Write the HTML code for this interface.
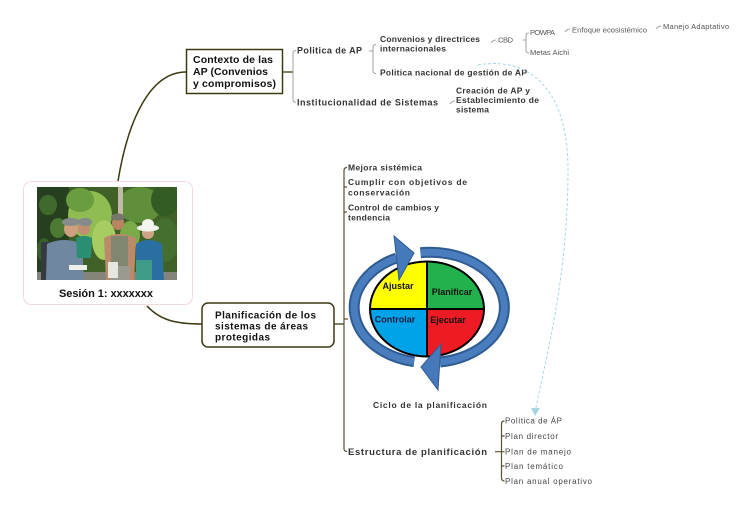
<!DOCTYPE html>
<html><head><meta charset="utf-8"><style>
html,body{margin:0;padding:0;background:#fff;}
svg{display:block;}
text{font-family:"Liberation Sans","DejaVu Sans",sans-serif;}
.b{font-weight:bold;}
</style></head><body>
<svg width="754" height="511" viewBox="0 0 754 511" xmlns="http://www.w3.org/2000/svg">
<defs>
<clipPath id="ph"><rect x="37" y="187" width="140" height="93"/></clipPath>
</defs>

<!-- main connectors -->
<path d="M118,181 C128,120 150,72 186,72" fill="none" stroke="#3b3a12" stroke-width="1.5"/>
<path d="M147,306 C160,320 175,324 202,324" fill="none" stroke="#3b3a12" stroke-width="1.5"/>
<line x1="283" y1="72" x2="293" y2="72" stroke="#3b3a12" stroke-width="1.3"/>
<line x1="334" y1="324" x2="344" y2="324" stroke="#3b3a12" stroke-width="1.3"/>

<!-- root box -->
<rect x="23.5" y="181.5" width="169" height="123" rx="8" fill="#fff" stroke="#f3dada" stroke-width="1"/>
<g clip-path="url(#ph)">
 <rect x="37" y="187" width="140" height="93" fill="#3f6128"/>
 <rect x="37" y="187" width="32" height="93" fill="#26401f"/>
 <ellipse cx="48" cy="205" rx="9" ry="10" fill="#3f6a2c"/>
 <ellipse cx="58" cy="228" rx="8" ry="10" fill="#4d7a33"/>
 <ellipse cx="44" cy="250" rx="7" ry="12" fill="#37602a"/>
 <ellipse cx="90" cy="215" rx="22" ry="24" fill="#8fbd52"/>
 <ellipse cx="80" cy="200" rx="14" ry="12" fill="#6a9c40"/>
 <ellipse cx="104" cy="240" rx="12" ry="20" fill="#a6cc62"/>
 <ellipse cx="140" cy="205" rx="22" ry="18" fill="#5f8f3a"/>
 <ellipse cx="165" cy="200" rx="14" ry="16" fill="#335c24"/>
 <ellipse cx="165" cy="240" rx="14" ry="22" fill="#446f2e"/>
 <ellipse cx="130" cy="235" rx="10" ry="14" fill="#7aab48"/>
 <rect x="118" y="187" width="5" height="40" fill="#c2baa6"/>
 <rect x="37" y="272" width="140" height="8" fill="#84847a"/>
 <!-- person 1 -->
 <rect x="41" y="242" width="8" height="38" fill="#353a40"/>
 <path d="M47,244 Q64,236 82,244 L84,280 L46,280 Z" fill="#6f88a0"/>
 <ellipse cx="71" cy="229" rx="7" ry="8" fill="#cf9f80"/>
 <ellipse cx="71" cy="222" rx="9" ry="4" fill="#868b8c"/>
 <rect x="69" y="265" width="18" height="5" fill="#eeeeea"/>
 <!-- person 2 -->
 <ellipse cx="84" cy="228" rx="6" ry="7" fill="#c08e70"/>
 <ellipse cx="85" cy="222" rx="7" ry="4" fill="#84898a"/>
 <path d="M76,238 Q84,234 92,238 L91,258 L77,258 Z" fill="#2a8f72"/>
 <!-- person 3 -->
 <path d="M104,238 Q118,230 136,238 L134,280 L106,280 Z" fill="#bb8a6a"/>
 <rect x="111" y="236" width="17" height="30" fill="#808670"/>
 <rect x="110" y="266" width="20" height="14" fill="#9a9a90"/>
 <ellipse cx="118" cy="223" rx="6" ry="7" fill="#b88464"/>
 <ellipse cx="118" cy="217" rx="7" ry="3.5" fill="#74776a"/>
 <rect x="108" y="262" width="10" height="16" fill="#e6e6e0"/>
 <!-- person 4 -->
 <path d="M136,244 Q148,236 162,244 L164,280 L136,280 Z" fill="#2a6fa2"/>
 <rect x="136" y="260" width="16" height="20" fill="#3f9a88"/>
 <ellipse cx="148" cy="233" rx="6" ry="6" fill="#cfa385"/>
 <ellipse cx="148" cy="228" rx="11" ry="3.5" fill="#f2f2ee"/>
 <ellipse cx="148" cy="224" rx="6" ry="5" fill="#f4f4f0"/>
</g>
<text x="59" y="297" class="b" font-size="11" fill="#111" textLength="94" lengthAdjust="spacing">Sesión 1: xxxxxxx</text>

<!-- context box -->
<rect x="186.5" y="49.5" width="96" height="44" fill="#fff" stroke="#3b3a12" stroke-width="1.5"/>
<text x="193" y="63" class="b" font-size="10.5" fill="#111" textLength="80" lengthAdjust="spacing">Contexto de las</text>
<text x="193" y="75" class="b" font-size="10.5" fill="#111" textLength="75" lengthAdjust="spacing">AP (Convenios</text>
<text x="193" y="87" class="b" font-size="10.5" fill="#111" textLength="83" lengthAdjust="spacing">y compromisos)</text>

<!-- upper brackets -->
<path d="M296,50.5 Q293,50.5 293,53.5 L293,99.5 Q293,102.5 296,102.5" fill="none" stroke="#a0a0a0" stroke-width="1"/>
<path d="M376,44.5 Q373,44.5 373,47.5 L373,70.5 Q373,73.5 376,73.5 M373,51 L369,51" fill="none" stroke="#a0a0a0" stroke-width="1"/>
<path d="M529,33 Q526,33 526,36 L526,50 Q526,53 529,53 M526,40 L523,40" fill="none" stroke="#a0a0a0" stroke-width="1"/>
<g fill="none" stroke="#a0a0a0" stroke-width="1">
<path d="M491,43 Q493,40 496,40"/>
<path d="M565,32 Q567,29 570,29"/>
<path d="M656,29 Q658,26 661,26"/>
<path d="M450,104 Q452,101 455,101"/>
</g>

<text x="297" y="53.5" class="b" font-size="9" fill="#333" textLength="65" lengthAdjust="spacing">Politica de AP</text>
<text x="297" y="105.5" class="b" font-size="9" fill="#333" textLength="141" lengthAdjust="spacing">Institucionalidad de Sistemas</text>
<text x="380" y="42" class="b" font-size="8.5" fill="#333" textLength="100" lengthAdjust="spacing">Convenios y directrices</text>
<text x="380" y="51.5" class="b" font-size="8.5" fill="#333" textLength="66" lengthAdjust="spacing">internacionales</text>
<text x="380" y="75.5" class="b" font-size="8.5" fill="#333" textLength="147" lengthAdjust="spacing">Politica nacional de gestión de AP</text>
<text x="456" y="93.5" class="b" font-size="8.5" fill="#333" textLength="74" lengthAdjust="spacing">Creación de AP y</text>
<text x="456" y="103" class="b" font-size="8.5" fill="#333" textLength="83" lengthAdjust="spacing">Establecimiento de</text>
<text x="456" y="112.5" class="b" font-size="8.5" fill="#333" textLength="33" lengthAdjust="spacing">sistema</text>

<text x="498" y="42.5" font-size="7.5" fill="#555" textLength="15" lengthAdjust="spacing">CBD</text>
<text x="530" y="35" font-size="7.5" fill="#555" textLength="25" lengthAdjust="spacing">POWPA</text>
<text x="530" y="55" font-size="7.5" fill="#555" textLength="39" lengthAdjust="spacing">Metas Aichi</text>
<text x="572" y="32.5" font-size="7.5" fill="#555" textLength="75" lengthAdjust="spacing">Enfoque ecosistémico</text>
<text x="663" y="29" font-size="7.5" fill="#555" textLength="66" lengthAdjust="spacing">Manejo Adaptativo</text>

<!-- dashed relation -->
<path d="M478,65 C522,57 568,80 568,170 C568,280 545,360 535.5,410" fill="none" stroke="#a9d6e3" stroke-width="1" stroke-dasharray="3,2"/>
<path d="M531,408 L540,408 L535,416 Z" fill="#a9d6e3"/>

<!-- plan box -->
<rect x="202" y="303" width="132" height="44" rx="6" fill="#fff" stroke="#3b3a12" stroke-width="1.5"/>
<text x="215" y="318.5" class="b" font-size="10" fill="#111" textLength="101" lengthAdjust="spacing">Planificación de los</text>
<text x="215" y="329.5" class="b" font-size="10" fill="#111" textLength="93" lengthAdjust="spacing">sistemas de áreas</text>
<text x="215" y="340.5" class="b" font-size="10" fill="#111" textLength="55" lengthAdjust="spacing">protegidas</text>

<!-- lower bracket -->
<path d="M347,167.5 Q344,167.5 344,170.5 L344,448.5 Q344,451.5 347,451.5 M344,187 L347,187 M344,212 L347,212 M344,319 L348,319" fill="none" stroke="#5a5230" stroke-width="1.2"/>
<text x="348" y="170.5" class="b" font-size="8.5" fill="#333" textLength="74" lengthAdjust="spacing">Mejora sistémica</text>
<text x="348" y="185" class="b" font-size="8.5" fill="#333" textLength="119" lengthAdjust="spacing">Cumplir con objetivos de</text>
<text x="348" y="195.5" class="b" font-size="8.5" fill="#333" textLength="62" lengthAdjust="spacing">conservación</text>
<text x="348" y="210.5" class="b" font-size="8.5" fill="#333" textLength="91" lengthAdjust="spacing">Control de cambios y</text>
<text x="348" y="220.5" class="b" font-size="8.5" fill="#333" textLength="42" lengthAdjust="spacing">tendencia</text>

<!-- cycle -->
<path d="M427,309 L370,309 A57,47.5 0 0 1 427,261.5 Z" fill="#ffff00"/>
<path d="M427,309 L427,261.5 A57,47.5 0 0 1 484,309 Z" fill="#22b14c"/>
<path d="M427,309 L484,309 A57,47.5 0 0 1 427,356.5 Z" fill="#ed1c24"/>
<path d="M427,309 L427,356.5 A57,47.5 0 0 1 370,309 Z" fill="#00a2e8"/>
<ellipse cx="427" cy="309" rx="57" ry="47.5" fill="none" stroke="#000" stroke-width="2"/>
<line x1="427" y1="261.5" x2="427" y2="356.5" stroke="#000" stroke-width="2"/>
<line x1="370" y1="309" x2="484" y2="309" stroke="#000" stroke-width="2"/>
<text x="398" y="289" class="b" font-size="9" fill="#111" text-anchor="middle">Ajustar</text>
<text x="452" y="295" class="b" font-size="9" fill="#111" text-anchor="middle">Planificar</text>
<text x="395" y="322.5" class="b" font-size="9" fill="#1a1a40" text-anchor="middle">Controlar</text>
<text x="448" y="323" class="b" font-size="9" fill="#111" text-anchor="middle">Ejecutar</text>

<g fill="none" stroke-linecap="butt">
<path d="M414.2,361.7 A74,55 0 0 1 396.5,258" stroke="#2e5c93" stroke-width="11"/>
<path d="M414.2,361.7 A74,55 0 0 1 396.5,258" stroke="#4a7dbd" stroke-width="7"/>
<path d="M420.5,252.7 A74,55 0 0 1 440,362" stroke="#2e5c93" stroke-width="11"/>
<path d="M420.5,252.7 A74,55 0 0 1 440,362" stroke="#4a7dbd" stroke-width="7"/>
</g>
<polygon points="394,236 414,253 399,280" fill="#4679ba" stroke="#2e5c93" stroke-width="1"/>
<polygon points="441,344 421,367 438,390" fill="#4679ba" stroke="#2e5c93" stroke-width="1"/>

<text x="373" y="408" class="b" font-size="8.5" fill="#333" textLength="114" lengthAdjust="spacing">Ciclo de la planificación</text>
<text x="348" y="455" class="b" font-size="9.5" fill="#333" textLength="139" lengthAdjust="spacing">Estructura de planificación</text>

<!-- right lower bracket -->
<path d="M504.5,421 Q501.5,421 501.5,424 L501.5,478 Q501.5,481 504.5,481 M501.5,436 L504.5,436 M495,451.7 L504.5,451.7 M501.5,466 L504.5,466" fill="none" stroke="#5a5230" stroke-width="1.2"/>
<text x="505" y="423.5" font-size="8" fill="#444" textLength="57" lengthAdjust="spacing">Política de ÁP</text>
<text x="505" y="439" font-size="8" fill="#444" textLength="53" lengthAdjust="spacing">Plan director</text>
<text x="505" y="454.5" font-size="8" fill="#444" textLength="66" lengthAdjust="spacing">Plan de manejo</text>
<text x="505" y="469" font-size="8" fill="#444" textLength="58" lengthAdjust="spacing">Plan temático</text>
<text x="505" y="484" font-size="8" fill="#444" textLength="87" lengthAdjust="spacing">Plan anual operativo</text>
</svg>
</body></html>
